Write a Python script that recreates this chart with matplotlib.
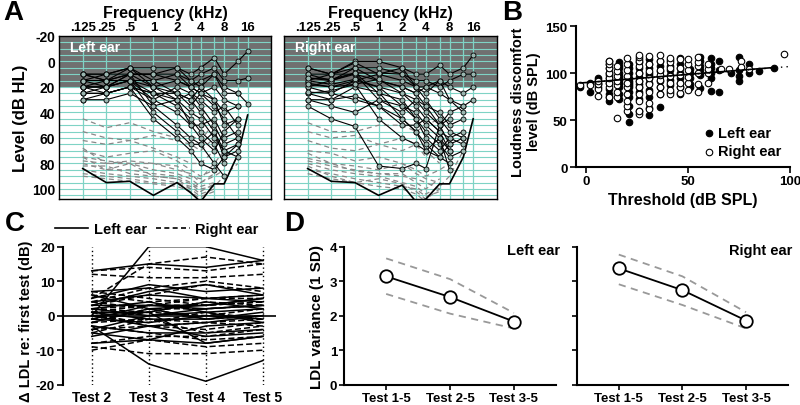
import numpy as np
import matplotlib
matplotlib.use('Agg')
import matplotlib.pyplot as plt
from matplotlib.lines import Line2D

plt.rcParams['font.family'] = ['Liberation Sans', 'DejaVu Sans']
plt.rcParams['font.weight'] = 'bold'
plt.rcParams['axes.labelweight'] = 'bold'
plt.rcParams['axes.unicode_minus'] = False

nan = np.nan

# ---------------- data ----------------
# panel A: audiogram frequencies (kHz)
freqs = [0.125, 0.25, 0.5, 1, 2, 3, 4, 6, 8, 12, 16]
freq_ticks = [0.125, 0.25, 0.5, 1, 2, 4, 8, 16]
freq_labels = ['.125', '.25', '.5', '1', '2', '4', '8', '16']

# thresholds (dB HL), one row per subject
left_thr = [
    [10, 10, 5, 5, 5, 10, 5, -3, 10, 0, -8],
    [15, 15, 10, 10, 5, 15, 10, 5, 15, 15, 13],
    [20, 20, 15, 15, 10, 20, 15, 10, 25, 25, 33],
    [25, 25, 20, 25, 25, 30, 40, 55, 70, 75, nan],
    [30, 30, 25, 35, 50, 60, 65, 80, 90, nan, nan],
    [15, 20, 10, 20, 30, 50, 50, 45, 60, 55, nan],
    [20, 15, 15, 30, 20, 25, 30, 40, 35, 50, nan],
    [10, 15, 10, 10, 15, 20, 25, 35, 45, 60, nan],
    [25, 20, 15, 40, 55, 65, 65, 55, 75, 70, nan],
    [20, 25, 20, 45, 60, 70, 80, 85, 75, 65, nan],
    [15, 10, 5, 15, 25, 35, 25, 30, 50, 45, nan],
    [10, 10, 10, 10, 10, 15, 20, 30, 40, 35, nan],
    [20, 20, 15, 25, 35, 45, 55, 65, 80, nan, nan],
    [15, 15, 5, 20, 15, 20, 25, 20, 30, 35, nan],
    [25, 25, 20, 30, 40, 50, 60, 70, 55, 45, nan],
    [30, 25, 20, 25, 30, 25, 35, 50, 65, 60, nan],
    [10, 15, 15, 20, 25, 30, 20, 10, 20, 25, nan],
    [20, 20, 10, 35, 30, 40, 45, 60, 70, 65, nan],
]
right_thr = [
    [5, 10, 0, 0, 5, 10, 10, 3, 10, 5, -5],
    [10, 15, 5, 5, 10, 15, 15, 20, 15, 10, 10],
    [15, 10, 10, 15, 20, 25, 20, 25, 30, 35, 30],
    [17, 20, 15, 10, 5, 20, 30, 45, 55, 60, nan],
    [20, 25, 15, 20, 35, 40, 50, 60, 70, nan, nan],
    [25, 30, 27, 35, 45, 55, 65, 75, 80, nan, nan],
    [35, 45, 51, 82, 84, 80, 84, 50, 45, nan, nan],
    [13, 15, 9, 25, 30, 45, 55, 65, 75, 70, nan],
    [10, 10, 5, 15, 20, 25, 35, 40, 50, 45, nan],
    [15, 18, 14, 20, 25, 35, 45, 55, 60, 65, nan],
    [20, 15, 10, 30, 40, 30, 35, 50, 65, nan, nan],
    [5, 10, 1, 10, 15, 20, 25, 15, 20, 25, 20],
    [25, 23, 18, 14, 25, 30, 40, 50, 40, 35, nan],
    [30, 30, 20, 24, 45, 55, 70, 60, 85, nan, nan],
    [18, 20, 18, 45, 60, 65, 70, 75, 65, 60, nan],
    [13, 14, 9, 9, 10, 20, 20, 15, 30, 40, nan],
    [24, 25, 30, 35, 50, 50, 45, 55, 70, nan, nan],
    [30, 35, 40, 30, 35, 45, 60, 70, 60, 55, nan],
]
# loudness discomfort levels (dB HL), dashed
left_ldl = [
    [45, 52, 48, 55, 60, 58, 62, 48, nan, nan, nan],
    [55, 60, 62, 58, 62, 65, 70, 60, nan, nan, nan],
    [62, 65, 62, 68, 75, 80, 80, 70, 75, nan, nan],
    [70, 75, 72, 70, 78, 85, 90, 85, nan, nan, nan],
    [75, 78, 80, 80, 85, 88, 95, 90, 85, nan, nan],
    [78, 80, 80, 85, 88, 92, 98, 95, nan, nan, nan],
    [80, 85, 85, 88, 90, 95, 100, 98, 90, 80, nan],
    [82, 82, 88, 90, 92, 96, 102, 96, nan, nan, nan],
    [85, 88, 90, 92, 95, 98, 104, 100, nan, nan, nan],
    [88, 90, 92, 95, 96, 100, 106, 102, nan, nan, nan],
    [90, 92, 94, 96, 98, 102, 108, nan, nan, nan, nan],
    [75, 85, 80, 90, 92, 100, 95, 88, nan, nan, nan],
    [68, 80, 78, 80, 82, 90, 92, 80, 70, nan, nan],
]
right_ldl = [
    [48, 55, 55, 50, 50, 55, 50, 45, nan, nan, nan],
    [55, 60, 58, 65, 70, 65, 75, 60, nan, nan, nan],
    [62, 68, 70, 65, 60, 65, 70, 80, nan, nan, nan],
    [70, 72, 78, 75, 80, 85, 90, 85, 80, nan, nan],
    [72, 80, 82, 85, 80, 88, 92, 95, nan, nan, nan],
    [78, 82, 85, 88, 90, 92, 95, 100, nan, nan, nan],
    [80, 85, 88, 90, 95, 98, 104, 98, 90, 70, nan],
    [85, 88, 92, 95, 98, 100, 106, 102, nan, nan, nan],
    [82, 90, 95, 92, 96, 102, 108, 100, nan, nan, nan],
    [88, 92, 95, 98, 100, 104, 110, nan, nan, nan, nan],
    [76, 80, 86, 88, 88, 95, 100, 92, nan, nan, nan],
]
# audiometer maximum output (dB HL)
left_max = [84, 95, 94, 105, 95, 103, 110, 96, 96, 73, 42]
right_max = [84, 94, 95, 105, 97, 110, 108, 96, 96, 75, 45]

# panel B: threshold vs LDL (dB SPL)
b_left_x = [-3, 2, 2, 6, 6, 6, 6, 6,
            11, 11, 11, 11, 11, 11, 11, 11, 11, 11, 11,
            16, 16, 16, 16, 16, 16, 16, 16, 16, 16, 16, 16,
            21, 21, 21, 21, 21, 21, 21, 21, 21, 21, 21, 21, 21,
            26, 26, 26, 26, 26, 26, 26, 26, 26, 26, 26,
            31, 31, 31, 31, 31, 31, 31, 31, 31, 31, 31,
            36, 36, 36, 36, 36, 36, 36, 36,
            41, 41, 41, 41, 41, 41, 41,
            46, 46, 46, 46, 46, 46, 46, 46,
            51, 51, 51, 51, 51,
            56, 56, 56, 56, 56, 56,
            61, 61, 61, 61, 61, 61,
            65, 65, 65, 71, 75, 75, 75, 75, 80, 80, 85, 92]
b_left_y = [85, 80, 90, 88, 93, 95, 85, 90,
            70, 75, 83, 90, 95, 100, 105, 110, 113, 78, 98,
            72, 78, 85, 90, 95, 100, 105, 108, 112, 88, 93, 97,
            48, 57, 65, 75, 80, 85, 90, 95, 100, 105, 110, 92, 87,
            60, 73, 80, 88, 92, 96, 100, 105, 112, 115, 85,
            55, 63, 75, 82, 90, 95, 100, 105, 110, 115, 98,
            64, 78, 85, 92, 97, 102, 108, 113,
            80, 87, 93, 98, 103, 108, 114,
            78, 85, 90, 95, 100, 105, 110, 116,
            85, 88, 95, 100, 104,
            84, 98, 103, 108, 113, 117,
            81, 95, 100, 105, 110, 116,
            80, 103, 113, 100, 92, 97, 103, 117, 110, 100, 102, 106]
b_right_x = [-3, 2, 6, 6, 6, 6,
             11, 11, 11, 11, 11, 11, 11, 11,
             15, 15, 15, 15, 15, 15, 15, 15,
             20, 20, 20, 20, 20, 20, 20, 20, 20, 20,
             26, 26, 26, 26, 26, 26, 26, 26, 26, 26, 26,
             31, 31, 31, 31, 31, 31, 31, 31,
             36, 36, 36, 36, 36, 36, 36,
             41, 41, 41, 41, 41, 41, 41,
             46, 46, 46, 46, 46, 46,
             50, 50, 50, 50, 50, 50,
             55, 55, 55, 55, 55, 55,
             60, 60, 60, 60, 66, 70, 76, 76, 80, 97]
b_right_y = [87, 87, 76, 83, 88, 92,
             75, 85, 90, 95, 100, 105, 110, 113,
             52, 75, 80, 87, 92, 97, 102, 108,
             60, 65, 70, 78, 85, 90, 97, 103, 110, 116,
             57, 60, 70, 78, 85, 92, 100, 108, 113, 117, 119,
             62, 68, 80, 88, 95, 102, 110, 118,
             78, 85, 93, 98, 103, 113, 119,
             78, 82, 90, 97, 105, 112, 116,
             79, 85, 90, 98, 106, 115,
             82, 90, 96, 103, 110, 115,
             80, 88, 100, 108, 112, 117,
             90, 100, 104, 110, 104, 104, 113, 107, 104, 120]
fit_x = [-3, 92]
fit_y = [89.5, 106]

# panel C: change in LDL re first test (dB), tests 2..5
tests_c = [2, 3, 4, 5]
test_c_labels = ['Test 2', 'Test 3', 'Test 4', 'Test 5']
c_left = [
    [13, 15, 14, 16], [0, 20, 20, 16], [-3, -14, -19, -13],
    [5, 9, 7, 8], [7, 8, 5, 6], [3, 3, 3, 5], [-5, -7, -3, -2],
    [-8, -7, -8, -6], [-3, -5, -5, -4], [2, 0, 2, 3], [1, 1, 4, 2],
    [-1, -2, 0, -1], [4, 6, 5, 4], [0, -3, -2, 0], [6, 2, 3, 5],
    [-2, 2, -1, 1], [2, 4, 1, 2], [-6, -3, -6, -5], [1, -1, -1, 0],
    [3, 7, 9, 6], [-1, 3, 2, 3], [0, 1, -8, -6], [-4, 0, 1, -2],
]
c_right = [
    [13, 14, 13, 15], [12, 11, 11, 12], [4, 8, 10, 8], [5, 15, 17, 15],
    [-9, -11, -11, -10], [-10, -7, -9, -8], [-8, -6, -6, -4], [6, 4, 5, 6],
    [2, 1, 4, 3], [-2, -1, -2, -3], [-1, 1, 0, 2], [0, -2, 1, -1],
    [3, 6, 9, 7], [-3, -5, -7, -6], [1, 3, 3, 4], [-4, -3, -2, -1],
    [4, 2, 2, 3], [-5, -1, -5, -3], [7, 5, 3, 4], [1, -3, -4, -2],
    [2, 3, 5, 5], [-2, 2, -1, 0],
]

# panel D: LDL variance (1 SD)
tests_d = [1, 2, 3]
test_d_labels = ['Test 1-5', 'Test 2-5', 'Test 3-5']
d_left_mean = [3.14, 2.54, 1.83]
d_left_hi = [3.66, 3.06, 2.08]
d_left_lo = [2.63, 2.06, 1.63]
d_right_mean = [3.37, 2.74, 1.86]
d_right_hi = [3.77, 3.14, 2.10]
d_right_lo = [2.91, 2.31, 1.63]

# ---------------- figure ----------------
fig = plt.figure(figsize=(8, 4.06), dpi=100)
teal = '#7fd3c5'


def audiogram(ax, thr, ldl, mx, label, show_y):
    ax.set_xscale('log', base=2)
    ax.set_xlim(1 / 16, 32)
    ax.set_ylim(108, -20)
    ax.axhspan(-20, 20, color='#707070', zorder=0, lw=0)
    for f in freqs:
        ax.axvline(f, color=teal, lw=0.9, zorder=0.5)
    for lv in range(-15, 110, 5):
        ax.axhline(lv, color=teal, lw=0.8, zorder=0.5)
    for row in ldl:
        ax.plot(freqs, row, color='#888888', lw=0.9, dashes=(4, 3), zorder=2)
    ax.plot(freqs, mx, color='black', lw=1.2, zorder=3)
    for row in thr:
        ax.plot(freqs, row, color='black', lw=0.8, marker='o', ms=3.6,
                mfc='#9ab5af', mec='black', mew=0.6, zorder=4)
    ax.xaxis.tick_top()
    ax.xaxis.set_label_position('top')
    ax.set_xticks(freq_ticks)
    ax.set_xticklabels(freq_labels)
    ax.xaxis.set_minor_locator(matplotlib.ticker.NullLocator())
    ax.set_yticks([-20, 0, 20, 40, 60, 80, 100])
    ax.tick_params(axis='x', length=0, labelsize=9.5, pad=2)
    ax.tick_params(axis='y', length=0, labelsize=10, pad=3)
    ax.set_xlabel('Frequency (kHz)', fontsize=11.5, labelpad=3)
    if show_y:
        ax.set_ylabel('Level (dB HL)', fontsize=12, labelpad=3)
    else:
        ax.set_yticklabels([])
    for s in ax.spines.values():
        s.set_linewidth(1.0)
    ax.text(0.05, 0.935, label, transform=ax.transAxes, color='white',
            fontsize=10, fontweight='bold', va='center', zorder=5)


axA1 = fig.add_axes([0.074, 0.507, 0.265, 0.402])
audiogram(axA1, left_thr, left_ldl, left_max, 'Left ear', True)
axA2 = fig.add_axes([0.355, 0.507, 0.266, 0.402])
audiogram(axA2, right_thr, right_ldl, right_max, 'Right ear', False)

# panel B
axB = fig.add_axes([0.72, 0.586, 0.2675, 0.347])
axB.scatter(b_left_x, b_left_y, s=22, c='black', edgecolors='black', lw=0.8,
            zorder=3, label='Left ear')
axB.scatter(b_right_x, b_right_y, s=22, facecolors='white', edgecolors='black',
            lw=0.8, zorder=3, label='Right ear')
axB.plot([-5, 100], [89.1, 107.1], color='black', lw=1.0, ls=(0, (1, 3)), zorder=4)
axB.plot(fit_x, fit_y, color='black', lw=1.2, zorder=4)
axB.set_xlim(-5, 100)
axB.set_ylim(0, 150)
axB.set_xticks([0, 50, 100])
axB.set_yticks([0, 50, 100, 150])
axB.spines['top'].set_visible(False)
axB.spines['right'].set_visible(False)
axB.spines['left'].set_linewidth(1.5)
axB.spines['bottom'].set_linewidth(1.5)
axB.tick_params(labelsize=9.5, width=1.2, length=4, pad=2)
axB.set_xlabel('Threshold (dB SPL)', fontsize=11.5, labelpad=3)
axB.set_ylabel('Loudness discomfort\nlevel (dB SPL)', fontsize=10.5,
               labelpad=3, y=0.47)
axB.legend(loc='lower right', frameon=False, fontsize=10.5, handletextpad=0.1,
           borderaxespad=0.2, labelspacing=0.3, markerscale=1.0,
           handlelength=1.0)

# panel C
axC = fig.add_axes([0.079, 0.05, 0.266, 0.34])
for t in tests_c:
    axC.plot([t, t], [-20, 20], color='black', lw=1.0, ls=(0, (1, 2)), zorder=1)
axC.axhline(0, color='black', lw=1.2, zorder=1)
for row in c_left:
    axC.plot(tests_c, row, color='black', lw=1.1, zorder=2)
for row in c_right:
    axC.plot(tests_c, row, color='black', lw=1.1, dashes=(4, 2), zorder=2)
axC.set_xlim(1.5, 5.23)
axC.set_ylim(-20, 20)
axC.set_xticks(tests_c)
axC.set_xticklabels(test_c_labels)
axC.set_yticks([-20, -10, 0, 10, 20])
for s in ['top', 'right', 'bottom']:
    axC.spines[s].set_visible(False)
axC.spines['left'].set_linewidth(1.5)
axC.tick_params(axis='x', length=0, labelsize=10, pad=4)
axC.tick_params(axis='y', width=1.2, length=4, labelsize=9.5, pad=2)
axC.set_ylabel('\u0394 LDL re: first test (dB)', fontsize=10.5, labelpad=2,
               y=0.47)
handles = [Line2D([0], [0], color='black', lw=1.2),
           Line2D([0], [0], color='black', lw=1.2, dashes=(3, 2))]
axC.legend(handles, ['Left ear', 'Right ear'], loc='lower center',
           bbox_to_anchor=(0.44, 1.0), ncol=2, frameon=False, fontsize=10.5,
           handlelength=2.3, columnspacing=0.6, handletextpad=0.4,
           borderaxespad=0.3)


def variance(ax, mean, hi, lo, label, show_y):
    ax.plot(tests_d, hi, color='#999999', lw=1.3, dashes=(4, 3), zorder=1)
    ax.plot(tests_d, lo, color='#999999', lw=1.3, dashes=(4, 3), zorder=1)
    ax.plot(tests_d, mean, color='black', lw=1.3, marker='o', ms=9,
            mfc='white', mec='black', mew=1.3, zorder=3)
    ax.set_xlim(0.34, 3.66)
    ax.set_ylim(0, 4)
    ax.set_xticks(tests_d)
    ax.set_xticklabels(test_d_labels)
    ax.set_yticks([0, 1, 2, 3, 4])
    ax.spines['top'].set_visible(False)
    ax.spines['right'].set_visible(False)
    ax.spines['left'].set_linewidth(1.5)
    ax.spines['bottom'].set_linewidth(1.5)
    ax.tick_params(labelsize=9.5, width=1.2, length=3.5, pad=1.5)
    if show_y:
        ax.set_ylabel('LDL variance (1 SD)', fontsize=11, labelpad=4)
    else:
        ax.set_yticklabels([])
    ax.text(1.02, 0.975, label, transform=ax.transAxes, ha='right',
            va='center', fontsize=10.5, fontweight='bold')


axD1 = fig.add_axes([0.43, 0.05, 0.265, 0.34])
variance(axD1, d_left_mean, d_left_hi, d_left_lo, 'Left ear', True)
axD2 = fig.add_axes([0.721, 0.05, 0.264, 0.34])
variance(axD2, d_right_mean, d_right_hi, d_right_lo, 'Right ear', False)

# panel letters
for x, y, t in [(0.004, 1.0, 'A'), (0.628, 1.0, 'B'),
                (0.006, 0.48, 'C'), (0.355, 0.48, 'D')]:
    fig.text(x, y, t, fontsize=20, fontweight='bold', va='top', ha='left')

fig.savefig('out.png', dpi=100)
